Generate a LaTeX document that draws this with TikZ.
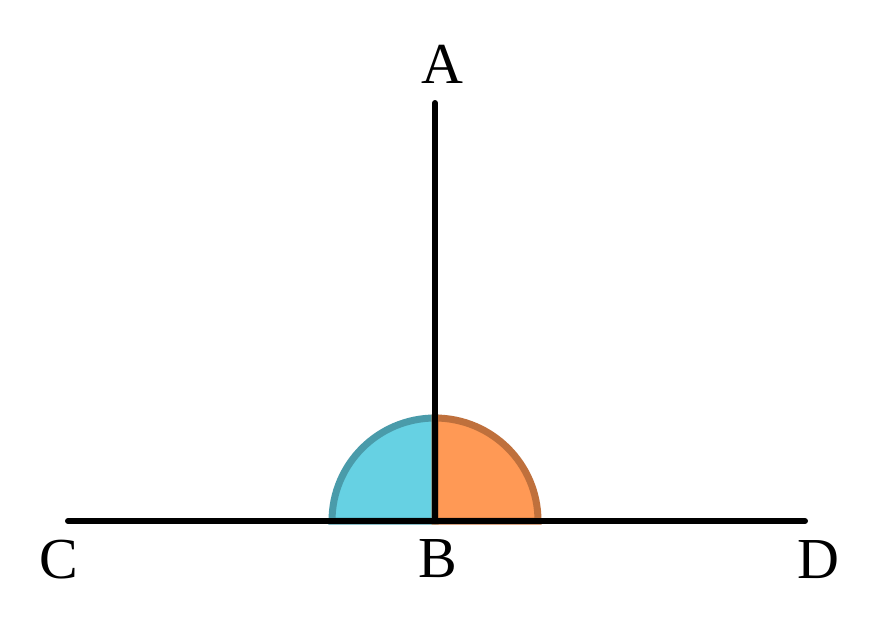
\documentclass[tikz,border=0pt]{standalone}
\usepackage{fontspec}
\setmainfont{Liberation Serif}
\definecolor{bluefill}{HTML}{66D1E3}
\definecolor{bluestroke}{HTML}{4A9BAA}
\definecolor{orangefill}{HTML}{FF9955}
\definecolor{orangestroke}{HTML}{BF703C}
\begin{document}
\begin{tikzpicture}[x=1pt,y=-1pt,
  lbl/.style={anchor=base,inner sep=0pt,font=\fontsize{58}{66}\selectfont},
  seg/.style={line width=6pt,line cap=round,black}]
\useasboundingbox[fill=white] (0,0) rectangle (880,633);
\coordinate (B) at (435,521);
\coordinate (Atop) at (435,103);
\coordinate (Cend) at (68,521);
\coordinate (Dend) at (805,521);
% sectors
\filldraw[fill=bluefill,draw=bluestroke,line width=7pt] (B) -- ++(-103,0) arc[start angle=180,end angle=270,radius=103] -- cycle;
\filldraw[fill=orangefill,draw=orangestroke,line width=7pt] (B) -- ++(103,0) arc[start angle=0,end angle=-90,radius=103] -- cycle;
% lines
\draw[seg] (Cend) -- (Dend);
\draw[seg] (B) -- (Atop);
% labels
\node[lbl] (lA) at (442,83) {A};
\node[lbl] (lB) at (438,577) {B};
\node[lbl] (lC) at (59,578) {C};
\node[lbl] (lD) at (818,578) {D};
\end{tikzpicture}
\end{document}
